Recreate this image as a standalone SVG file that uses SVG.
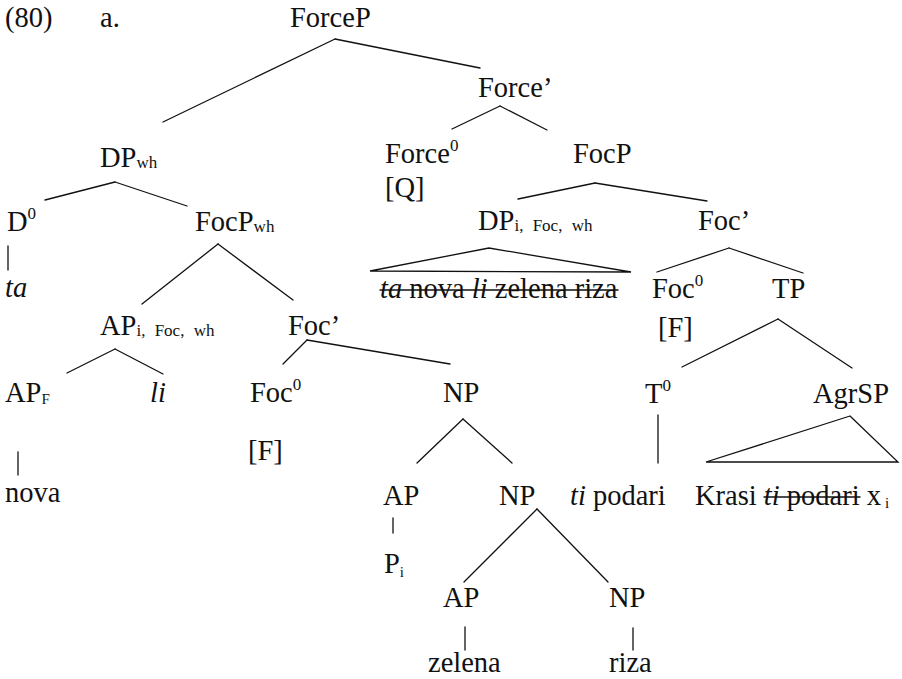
<svg xmlns="http://www.w3.org/2000/svg" width="902" height="679" viewBox="0 0 902 679">
  <style>
    text { font-family: 'Liberation Serif', serif; font-size: 28.5px; fill: #111; }
    .it { font-style: italic; }
    .sup { font-size: 17px; }
    .sub { font-size: 17px; word-spacing: 5px; }
    .subs { font-size: 15px; }
    line, polygon { stroke: #111; stroke-width: 1.3; fill: none; stroke-linecap: round; }
    .strike { stroke-width: 1.4; }
  </style>
  <rect width="902" height="679" fill="#fff"/>

  <!-- example number and label -->
  <g id="label">
    <text x="5" y="27">(80)</text>
    <text x="100" y="27">a.</text>
  </g>

  <!-- tree branches -->
  <g id="connectors">
    <line x1="335" y1="39" x2="163" y2="122"/>
    <line x1="335" y1="39" x2="480" y2="68"/>
    <line x1="500" y1="106" x2="452" y2="129"/>
    <line x1="500" y1="106" x2="547" y2="130"/>
    <line x1="595" y1="183" x2="518" y2="199"/>
    <line x1="595" y1="183" x2="707" y2="201"/>
    <polygon points="489,248 370,271 631,272"/>
    <line x1="729" y1="248" x2="657" y2="272"/>
    <line x1="729" y1="248" x2="803" y2="273"/>
    <line x1="778" y1="319" x2="682" y2="367"/>
    <line x1="778" y1="319" x2="852" y2="368"/>
    <line x1="658" y1="415" x2="658" y2="463"/>
    <polygon points="850,416 706,462 898,462"/>
    <line x1="115" y1="182" x2="45" y2="200"/>
    <line x1="115" y1="182" x2="187" y2="206"/>
    <line x1="8" y1="246" x2="8" y2="270"/>
    <line x1="218" y1="244" x2="142" y2="304"/>
    <line x1="218" y1="244" x2="293" y2="300"/>
    <line x1="115" y1="349" x2="67" y2="373"/>
    <line x1="115" y1="349" x2="163" y2="374"/>
    <line x1="307" y1="340" x2="283" y2="364"/>
    <line x1="307" y1="340" x2="450" y2="364"/>
    <line x1="18" y1="452" x2="18" y2="475"/>
    <line x1="463" y1="419" x2="417" y2="463"/>
    <line x1="463" y1="419" x2="512" y2="463"/>
    <line x1="393" y1="518" x2="393" y2="533"/>
    <line x1="537" y1="509" x2="464" y2="582"/>
    <line x1="537" y1="509" x2="608" y2="582"/>
    <line x1="465" y1="627" x2="465" y2="650"/>
    <line x1="633" y1="628" x2="633" y2="650"/>
  </g>

  <!-- right spine -->
  <g id="n-forcep"><text x="290" y="27">ForceP</text></g>
  <g id="n-forcebar"><text x="478" y="97">Force’</text></g>
  <g id="n-force0">
    <text x="385" y="163">Force<tspan class="sup" dy="-12">0</tspan></text>
    <text x="385" y="197">[Q]</text>
  </g>
  <g id="n-focp"><text x="573" y="163">FocP</text></g>
  <g id="n-dp-foc"><text x="478" y="230">DP<tspan class="sub" dy="1">i, Foc, wh</tspan></text></g>
  <g id="n-dp-foc-yield">
    <text x="380" y="298"><tspan class="it">ta</tspan> nova <tspan class="it">li</tspan> zelena riza</text>
    <line class="strike" x1="380" y1="290" x2="618" y2="290"/>
  </g>
  <g id="n-focbar-r"><text x="698" y="230">Foc’</text></g>
  <g id="n-foc0-r">
    <text x="652" y="298">Foc<tspan class="sup" dy="-12">0</tspan></text>
    <text x="658" y="337">[F]</text>
  </g>
  <g id="n-tp"><text x="772" y="298">TP</text></g>
  <g id="n-t0">
    <text x="645" y="403">T<tspan class="sup" dy="-12">0</tspan></text>
    <text x="570" y="505"><tspan class="it">ti</tspan> podari</text>
  </g>
  <g id="n-agrsp">
    <text x="813" y="403">AgrSP</text>
    <text x="695" y="505">Krasi <tspan class="it">ti</tspan> podari x<tspan class="subs" dx="4" dy="3">i</tspan></text>
    <line class="strike" x1="764" y1="497" x2="860" y2="497"/>
  </g>

  <!-- wh-phrase -->
  <g id="n-dpwh"><text x="100" y="167">DP<tspan class="sub" dy="1">wh</tspan></text></g>
  <g id="n-d0">
    <text x="7" y="231">D<tspan class="sup" dy="-12">0</tspan></text>
    <text class="it" x="5" y="297">ta</text>
  </g>
  <g id="n-focpwh"><text x="195" y="231">FocP<tspan class="sub" dy="1">wh</tspan></text></g>
  <g id="n-ap-foc"><text x="100" y="335">AP<tspan class="sub" dy="1">i, Foc, wh</tspan></text></g>
  <g id="n-apf">
    <text x="5" y="402">AP<tspan class="subs" dy="2">F</tspan></text>
    <text x="5" y="502">nova</text>
  </g>
  <g id="n-li"><text class="it" x="150" y="402">li</text></g>
  <g id="n-focbar-l"><text x="288" y="335">Foc’</text></g>
  <g id="n-foc0-l">
    <text x="250" y="402">Foc<tspan class="sup" dy="-12">0</tspan></text>
    <text x="248" y="460">[F]</text>
  </g>
  <g id="n-np1"><text x="443" y="402">NP</text></g>
  <g id="n-ap1">
    <text x="383" y="505">AP</text>
    <text x="384" y="573">P<tspan class="subs" dy="4">i</tspan></text>
  </g>
  <g id="n-np2"><text x="499" y="505">NP</text></g>
  <g id="n-ap2">
    <text x="443" y="607">AP</text>
    <text x="428" y="672">zelena</text>
  </g>
  <g id="n-np3">
    <text x="609" y="607">NP</text>
    <text x="609" y="672">riza</text>
  </g>
</svg>
